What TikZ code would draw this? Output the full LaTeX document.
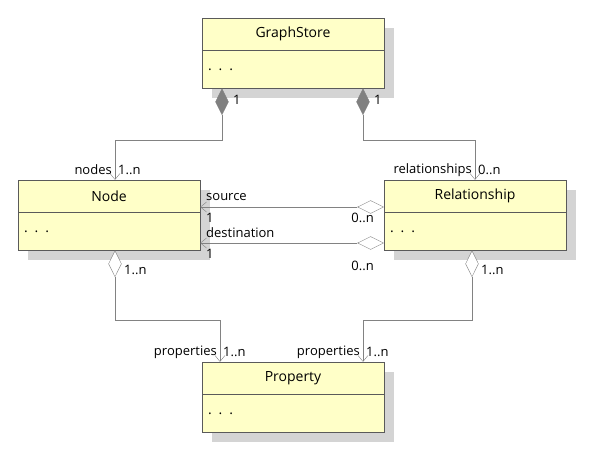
\documentclass[tikz,border=0pt]{standalone}
\usepackage{fontspec}
\setmainfont{Open Sans}
\usetikzlibrary{positioning}
\usetikzlibrary{shapes.geometric}
\usetikzlibrary{arrows.meta}

\definecolor{clsfill}{RGB}{255,255,200}
\definecolor{clsline}{RGB}{90,90,90}
\definecolor{shade}{RGB}{212,212,212}
\definecolor{wire}{RGB}{130,130,130}

\tikzset{
  head/.style={draw=clsline, fill=clsfill, minimum width=182pt, minimum height=32pt, inner sep=0pt, font=\fontsize{14}{16}\selectfont},
  body/.style={draw=clsline, fill=clsfill, minimum width=182pt, minimum height=38pt, inner sep=6pt, align=left, text width=170pt, font=\fontsize{14}{16}\selectfont},
  shadow/.style={fill=shade},
  vdia/.style={diamond, draw=wire, fill=white, minimum width=13pt, minimum height=26pt, inner sep=0pt, shape aspect=0.5},
  hdia/.style={diamond, draw=wire, fill=white, minimum width=26pt, minimum height=13pt, inner sep=0pt, shape aspect=2},
  link/.style={draw=wire, -{Straight Barb[length=6pt,width=10pt]}},
  lbl/.style={font=\fontsize{13}{15}\selectfont, inner sep=1pt}
}

\begin{document}
\begin{tikzpicture}[x=1pt,y=-1pt]
  \useasboundingbox (0,0) rectangle (600,460);

  % shadows
  \foreach \x/\y in {202/18, 18/180, 384/180, 202/362}
    \fill[shadow] (\x+10,\y+10) rectangle (\x+192,\y+80);

  % classes
  \node[head] (gs) at (293,34) {GraphStore};
  \node[body, below=0pt of gs] (gsb) {. . .};
  \node[head] (nd) at (109,196) {Node};
  \node[body, below=0pt of nd] (ndb) {. . .};
  \node[head] (rl) at (475,196) {Relationship};
  \node[body, below=0pt of rl] (rlb) {. . .};
  \node[head] (pr) at (293,378) {Property};
  \node[body, below=0pt of pr] (prb) {. . .};

  % aggregation diamonds
  \node[vdia, fill=gray, anchor=north] (d1) at (gsb.south -| 222,0) {};
  \node[vdia, fill=gray, anchor=north] (d2) at (gsb.south -| 363,0) {};
  \node[vdia, anchor=north] (d3) at (ndb.south -| 115,0) {};
  \node[vdia, anchor=north] (d4) at (rlb.south -| 472,0) {};
  \node[hdia, anchor=east] (d5) at (rl.west |- 0,207) {};
  \node[hdia, anchor=east] (d6) at (rl.west |- 0,243) {};

  % connectors
  \draw[link] (d1.south) |- (115,140) -- (nd.north -| 115,0);
  \draw[link] (d2.south) |- (475,140) -- (rl.north);
  \draw[link] (d5.west) -- (nd.east |- d5);
  \draw[link] (d6.west) -- (ndb.east |- d6);
  \draw[link] (d3.south) |- (220,320) -- (pr.north -| 220,0);
  \draw[link] (d4.south) |- (363,320) -- (pr.north -| 363,0);

  % labels
  \node[lbl, anchor=west] at (232,100) {1};
  \node[lbl, anchor=west] at (373,100) {1};
  \node[lbl, anchor=east] at (113,170) {nodes};
  \node[lbl, anchor=west] at (117,170) {1..n};
  \node[lbl, anchor=east] at (473,170) {relationships};
  \node[lbl, anchor=west] at (477,170) {0..n};
  \node[lbl, anchor=west] at (205,197) {source};
  \node[lbl, anchor=west] at (205,218) {1};
  \node[lbl, anchor=east] at (375,218) {0..n};
  \node[lbl, anchor=west] at (205,233) {destination};
  \node[lbl, anchor=west] at (205,254) {1};
  \node[lbl, anchor=east] at (375,266) {0..n};
  \node[lbl, anchor=west] at (123,270) {1..n};
  \node[lbl, anchor=west] at (480,270) {1..n};
  \node[lbl, anchor=east] at (218,352) {properties};
  \node[lbl, anchor=west] at (222,352) {1..n};
  \node[lbl, anchor=east] at (361,352) {properties};
  \node[lbl, anchor=west] at (365,352) {1..n};
\end{tikzpicture}
\end{document}
